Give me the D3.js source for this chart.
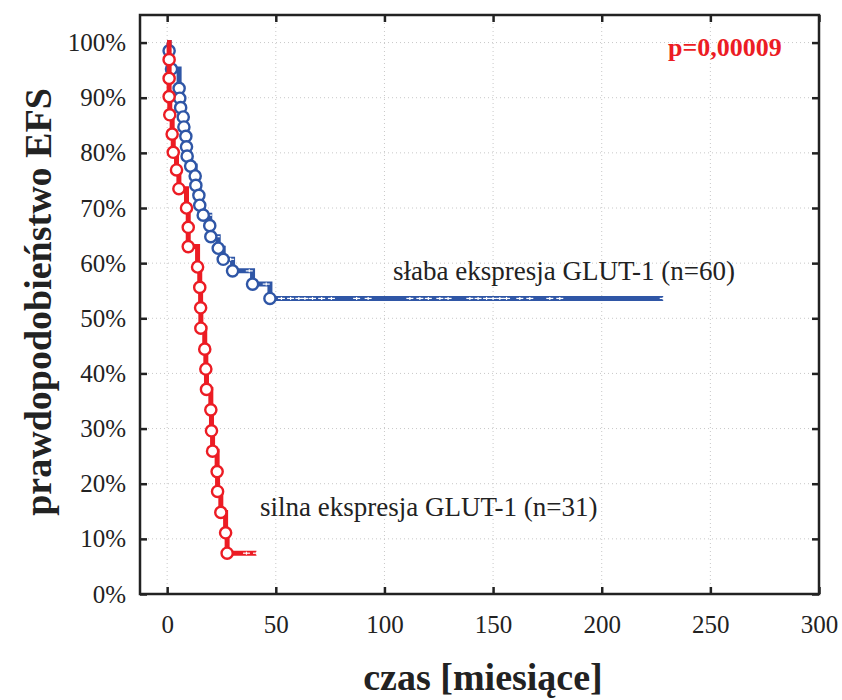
<!DOCTYPE html>
<html>
<head>
<meta charset="utf-8">
<script src="https://cdn.jsdelivr.net/npm/d3@7"></script>
<style>
  body { margin: 0; background: #fff; }
  svg { display: block; font-family: "Liberation Serif", "Times New Roman", serif; }
</style>
</head>
<body>
<div id="chart"></div>
<script>
// dane (czas w miesiacach, przezycie w %)
const xTicks = [0, 50, 100, 150, 200, 250, 300];
const yTicks = [0, 10, 20, 30, 40, 50, 60, 70, 80, 90, 100];

// slaba ekspresja GLUT-1 (n=60) - zdarzenia
const blueTimes = [0.9, 2.0, 5.5, 5.8, 6.2, 7.4, 7.7, 8.6, 8.9, 9.2, 10.8, 12.9, 13.2, 14.6, 15.0, 16.6, 19.6, 20.1, 23.5, 25.8, 30.1, 39.3, 47.3];
const blueSurv  = [98.5, 95.2, 91.7, 89.9, 88.2, 86.5, 84.7, 83.0, 81.1, 79.4, 77.6, 75.8, 74.1, 72.3, 70.5, 68.7, 66.8, 64.8, 62.7, 60.7, 58.6, 56.2, 53.6];
// obserwacje ucięte
const blueCensored = [19.0, 22.6, 29.2, 37.8, 45.6, 52.6, 56.8, 60.6, 63.4, 66.9, 71.1, 75.6, 87.2, 92.5, 111.7, 116.3, 120.2, 125.5, 129.3, 139.3, 143.1, 147.0, 150.0, 153.1, 156.2, 162.3, 166.9, 176.1, 180.7, 228.3];

// silna ekspresja GLUT-1 (n=31)
const redTimes = [0.9, 0.9, 0.9, 1.2, 2.3, 2.8, 4.3, 5.4, 8.9, 9.7, 9.7, 14.0, 15.0, 15.4, 15.5, 17.3, 17.8, 18.1, 20.1, 20.4, 20.9, 23.0, 23.2, 24.7, 26.9, 27.6];
const redSurv  = [96.9, 93.5, 90.2, 86.9, 83.4, 80.1, 76.9, 73.5, 70.0, 66.5, 63.0, 59.3, 55.6, 51.9, 48.2, 44.4, 40.8, 37.1, 33.4, 29.6, 25.9, 22.2, 18.6, 14.8, 11.1, 7.4];
const redCensored = [36.5, 41.1];

const W = 842, H = 700;
const plot = {left: 140, right: 819, top: 15, bottom: 594};

const svg = d3.select("#chart").append("svg")
  .attr("width", W).attr("height", H);

const x = d3.scaleLinear().domain([-12.5, 300]).range([plot.left, plot.right]);
const y = d3.scaleLinear().domain([0, 105]).range([plot.bottom, plot.top]);

// siatka
const grid = svg.append("g").attr("stroke", "#c8c8c8").attr("stroke-width", 1).attr("stroke-dasharray", "1,3");
grid.selectAll("line.gx").data(xTicks).enter().append("line")
  .attr("x1", d => x(d)).attr("x2", d => x(d))
  .attr("y1", plot.top).attr("y2", plot.bottom);
grid.selectAll("line.gy").data(yTicks).enter().append("line")
  .attr("x1", plot.left).attr("x2", plot.right)
  .attr("y1", d => y(d)).attr("y2", d => y(d));

// osie
const fmtPct = d => d + "%";
const axL = svg.append("g").attr("transform", "translate(" + plot.left + ",0)")
  .call(d3.axisLeft(y).tickValues(yTicks).tickFormat(fmtPct).tickSize(-7).tickPadding(14));
const axB = svg.append("g").attr("transform", "translate(0," + plot.bottom + ")")
  .call(d3.axisBottom(x).tickValues(xTicks).tickSize(-7).tickPadding(21));
const axT = svg.append("g").attr("transform", "translate(0," + plot.top + ")")
  .call(d3.axisTop(x).tickValues(xTicks).tickFormat("").tickSize(-7));
const axR = svg.append("g").attr("transform", "translate(" + plot.right + ",0)")
  .call(d3.axisRight(y).tickValues(yTicks).tickFormat("").tickSize(-7));

[axL, axB, axT, axR].forEach(a => {
  a.select(".domain").remove();
  a.selectAll(".tick line").attr("stroke", "#222").attr("stroke-width", 2.5);
  a.selectAll("text").attr("font-family", "Liberation Serif").attr("font-size", 25).attr("fill", "#222");
});

svg.append("rect")
  .attr("x", plot.left).attr("y", plot.top)
  .attr("width", plot.right - plot.left).attr("height", plot.bottom - plot.top)
  .attr("fill", "none").attr("stroke", "#222").attr("stroke-width", 2.5);

// krzywe Kaplana-Meiera
function survAt(times, surv, t) {
  let s = 100;
  for (let i = 0; i < times.length; i++) if (times[i] <= t) s = surv[i];
  return s;
}

function drawCurve(times, surv, censored, color) {
  const pts = [[0, 100]].concat(times.map((t, i) => [t, surv[i]]));
  const lastT = d3.max(censored);
  pts.push([lastT, surv[surv.length - 1]]);

  const line = d3.line().x(d => x(d[0])).y(d => y(d[1])).curve(d3.curveStepAfter);
  svg.append("path").datum(pts)
    .attr("d", line)
    .attr("fill", "none")
    .attr("stroke", color)
    .attr("stroke-width", 5);

  const cens = svg.append("g").attr("stroke", "#fff").attr("stroke-width", 1.2);
  censored.forEach(t => {
    const cx = x(t), cy = y(survAt(times, surv, t));
    cens.append("line").attr("x1", cx - 3.5).attr("x2", cx + 3.5).attr("y1", cy).attr("y2", cy);
    cens.append("line").attr("x1", cx).attr("x2", cx).attr("y1", cy - 1.5).attr("y2", cy + 1.5);
  });

  svg.append("g").selectAll("circle")
    .data(times.map((t, i) => [t, surv[i]]))
    .enter().append("circle")
      .attr("cx", d => x(d[0]))
      .attr("cy", d => y(d[1]))
      .attr("r", 5.6)
      .attr("fill", "#fff")
      .attr("stroke", color)
      .attr("stroke-width", 2.4);
}

drawCurve(blueTimes, blueSurv, blueCensored, "#2f56a6");
drawCurve(redTimes, redSurv, redCensored, "#ec1c24");

// opisy
svg.append("text")
  .attr("x", 393).attr("y", 280)
  .attr("font-size", 27).attr("fill", "#222")
  .text("słaba ekspresja GLUT-1 (n=60)");
svg.append("text")
  .attr("x", 260).attr("y", 516)
  .attr("font-size", 27).attr("fill", "#222")
  .text("silna ekspresja GLUT-1 (n=31)");
svg.append("text")
  .attr("x", 668).attr("y", 56)
  .attr("font-size", 26).attr("font-weight", "bold").attr("fill", "#ec1c24")
  .text("p=0,00009");

svg.append("text")
  .attr("transform", "translate(51,302) rotate(-90)")
  .attr("text-anchor", "middle")
  .attr("font-size", 38).attr("font-weight", "bold").attr("fill", "#222")
  .text("prawdopodobieństwo EFS");
svg.append("text")
  .attr("x", 483).attr("y", 690)
  .attr("text-anchor", "middle")
  .attr("font-size", 38).attr("font-weight", "bold").attr("fill", "#222")
  .text("czas [miesiące]");
</script>
</body>
</html>
